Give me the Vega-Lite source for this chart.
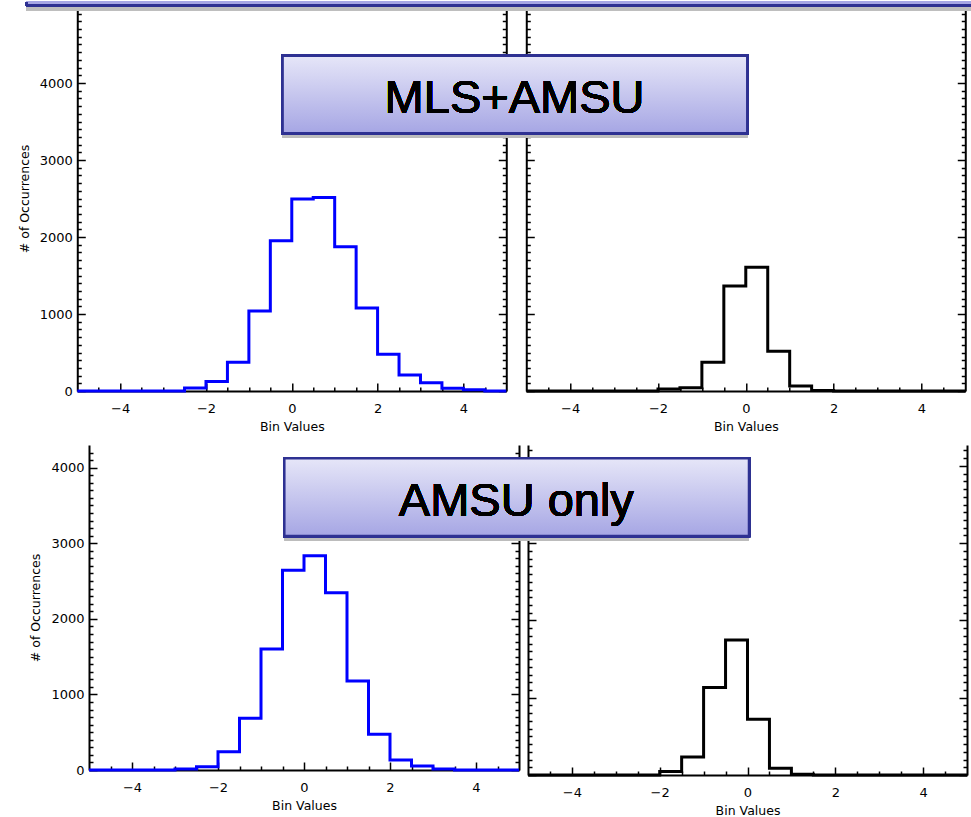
{
  "$schema": "https://vega.github.io/schema/vega-lite/v6.json",
  "padding": {"left": 18, "top": 0, "right": 0, "bottom": 0},
  "datasets": {
    "hist": [
      {"panel": "mls_amsu_blue", "edge": -5, "count": 0},
      {"panel": "mls_amsu_blue", "edge": -4.5, "count": 0},
      {"panel": "mls_amsu_blue", "edge": -4, "count": 0},
      {"panel": "mls_amsu_blue", "edge": -3.5, "count": 0},
      {"panel": "mls_amsu_blue", "edge": -3, "count": 0},
      {"panel": "mls_amsu_blue", "edge": -2.5, "count": 40},
      {"panel": "mls_amsu_blue", "edge": -2, "count": 125},
      {"panel": "mls_amsu_blue", "edge": -1.5, "count": 373},
      {"panel": "mls_amsu_blue", "edge": -1, "count": 1040},
      {"panel": "mls_amsu_blue", "edge": -0.5, "count": 1950},
      {"panel": "mls_amsu_blue", "edge": 0, "count": 2493},
      {"panel": "mls_amsu_blue", "edge": 0.5, "count": 2514},
      {"panel": "mls_amsu_blue", "edge": 1, "count": 1873},
      {"panel": "mls_amsu_blue", "edge": 1.5, "count": 1079},
      {"panel": "mls_amsu_blue", "edge": 2, "count": 477},
      {"panel": "mls_amsu_blue", "edge": 2.5, "count": 208},
      {"panel": "mls_amsu_blue", "edge": 3, "count": 108},
      {"panel": "mls_amsu_blue", "edge": 3.5, "count": 35},
      {"panel": "mls_amsu_blue", "edge": 4, "count": 17},
      {"panel": "mls_amsu_blue", "edge": 4.5, "count": 0},
      {"panel": "mls_amsu_blue", "edge": 5, "count": 0},
      {"panel": "mls_amsu_black", "edge": -5, "count": 0},
      {"panel": "mls_amsu_black", "edge": -4.5, "count": 0},
      {"panel": "mls_amsu_black", "edge": -4, "count": 0},
      {"panel": "mls_amsu_black", "edge": -3.5, "count": 0},
      {"panel": "mls_amsu_black", "edge": -3, "count": 0},
      {"panel": "mls_amsu_black", "edge": -2.5, "count": 0},
      {"panel": "mls_amsu_black", "edge": -2, "count": 26},
      {"panel": "mls_amsu_black", "edge": -1.5, "count": 43},
      {"panel": "mls_amsu_black", "edge": -1, "count": 373},
      {"panel": "mls_amsu_black", "edge": -0.5, "count": 1364},
      {"panel": "mls_amsu_black", "edge": 0, "count": 1607},
      {"panel": "mls_amsu_black", "edge": 0.5, "count": 516},
      {"panel": "mls_amsu_black", "edge": 1, "count": 65},
      {"panel": "mls_amsu_black", "edge": 1.5, "count": 5},
      {"panel": "mls_amsu_black", "edge": 2, "count": 0},
      {"panel": "mls_amsu_black", "edge": 2.5, "count": 0},
      {"panel": "mls_amsu_black", "edge": 3, "count": 0},
      {"panel": "mls_amsu_black", "edge": 3.5, "count": 0},
      {"panel": "mls_amsu_black", "edge": 4, "count": 0},
      {"panel": "mls_amsu_black", "edge": 4.5, "count": 0},
      {"panel": "mls_amsu_black", "edge": 5, "count": 0},
      {"panel": "amsu_blue", "edge": -5, "count": 0},
      {"panel": "amsu_blue", "edge": -4.5, "count": 0},
      {"panel": "amsu_blue", "edge": -4, "count": 0},
      {"panel": "amsu_blue", "edge": -3.5, "count": 0},
      {"panel": "amsu_blue", "edge": -3, "count": 13},
      {"panel": "amsu_blue", "edge": -2.5, "count": 44},
      {"panel": "amsu_blue", "edge": -2, "count": 243},
      {"panel": "amsu_blue", "edge": -1.5, "count": 684},
      {"panel": "amsu_blue", "edge": -1, "count": 1601},
      {"panel": "amsu_blue", "edge": -0.5, "count": 2642},
      {"panel": "amsu_blue", "edge": 0, "count": 2836},
      {"panel": "amsu_blue", "edge": 0.5, "count": 2346},
      {"panel": "amsu_blue", "edge": 1, "count": 1178},
      {"panel": "amsu_blue", "edge": 1.5, "count": 472},
      {"panel": "amsu_blue", "edge": 2, "count": 132},
      {"panel": "amsu_blue", "edge": 2.5, "count": 53},
      {"panel": "amsu_blue", "edge": 3, "count": 13},
      {"panel": "amsu_blue", "edge": 3.5, "count": 0},
      {"panel": "amsu_blue", "edge": 4, "count": 0},
      {"panel": "amsu_blue", "edge": 4.5, "count": 0},
      {"panel": "amsu_blue", "edge": 5, "count": 0},
      {"panel": "amsu_black", "edge": -5, "count": 0},
      {"panel": "amsu_black", "edge": -4.5, "count": 0},
      {"panel": "amsu_black", "edge": -4, "count": 0},
      {"panel": "amsu_black", "edge": -3.5, "count": 0},
      {"panel": "amsu_black", "edge": -3, "count": 0},
      {"panel": "amsu_black", "edge": -2.5, "count": 0},
      {"panel": "amsu_black", "edge": -2, "count": 44},
      {"panel": "amsu_black", "edge": -1.5, "count": 233},
      {"panel": "amsu_black", "edge": -1, "count": 1131},
      {"panel": "amsu_black", "edge": -0.5, "count": 1747},
      {"panel": "amsu_black", "edge": 0, "count": 721},
      {"panel": "amsu_black", "edge": 0.5, "count": 87},
      {"panel": "amsu_black", "edge": 1, "count": 9},
      {"panel": "amsu_black", "edge": 1.5, "count": 0},
      {"panel": "amsu_black", "edge": 2, "count": 0},
      {"panel": "amsu_black", "edge": 2.5, "count": 0},
      {"panel": "amsu_black", "edge": 3, "count": 0},
      {"panel": "amsu_black", "edge": 3.5, "count": 0},
      {"panel": "amsu_black", "edge": 4, "count": 0},
      {"panel": "amsu_black", "edge": 4.5, "count": 0},
      {"panel": "amsu_black", "edge": 5, "count": 0}
    ]
  },
  "vconcat": [
    {
      "hconcat": [
        {
          "width": 429, "height": 385,
          "data": {"name": "hist"},
          "transform": [{"filter": "datum.panel === 'mls_amsu_blue'"}],
          "layer": [
            {
              "mark": {"type": "line", "interpolate": "step-after", "color": "#0000ff", "strokeWidth": 3},
              "encoding": {
                "x": {"field": "edge", "type": "quantitative", "scale": {"domain": [-5, 5], "nice": false, "zero": false},
                  "axis": {"orient": "bottom", "values": [-4.5,-4,-3.5,-3,-2.5,-2,-1.5,-1,-0.5,0,0.5,1,1.5,2,2.5,3,3.5,4,4.5],
                    "tickSize": {"condition": {"test": "datum.value % 2 === 0", "value": -8}, "value": -4},
                    "labelExpr": "datum.value % 2 === 0 ? datum.label : ''", "labelPadding": 19, "title": "Bin Values", "titlePadding": 1}},
                "y": {"field": "count", "type": "quantitative", "scale": {"domain": [0, 5000], "nice": false},
                  "axis": {"orient": "left", "values": [0,100,200,300,400,500,600,700,800,900,1000,1100,1200,1300,1400,1500,1600,1700,1800,1900,2000,2100,2200,2300,2400,2500,2600,2700,2800,2900,3000,3100,3200,3300,3400,3500,3600,3700,3800,3900,4000,4100,4200,4300,4400,4500,4600,4700,4800,4900],
                    "tickSize": {"condition": {"test": "datum.value % 1000 === 0", "value": -8}, "value": -4},
                    "labelExpr": "datum.value % 1000 === 0 ? datum.label : ''", "labelPadding": 13, "title": "# of Occurrences", "titlePadding": 8}}
              }
            },
            {
              "mark": {"type": "line", "interpolate": "step-after", "color": "#0000ff", "strokeWidth": 3, "opacity": 0},
              "encoding": {
                "x": {"field": "edge", "type": "quantitative", "scale": {"domain": [-5, 5], "nice": false, "zero": false}, "axis": null},
                "y": {"field": "count", "type": "quantitative", "scale": {"domain": [0, 5000], "nice": false},
                  "axis": {"orient": "right", "values": [0,100,200,300,400,500,600,700,800,900,1000,1100,1200,1300,1400,1500,1600,1700,1800,1900,2000,2100,2200,2300,2400,2500,2600,2700,2800,2900,3000,3100,3200,3300,3400,3500,3600,3700,3800,3900,4000,4100,4200,4300,4400,4500,4600,4700,4800,4900],
                    "tickSize": {"condition": {"test": "datum.value % 1000 === 0", "value": -8}, "value": -4},
                    "labels": false, "title": null}}
              }
            }
          ],
          "resolve": {"axis": {"x": "independent", "y": "independent"}}
        },
        {
          "width": 439, "height": 385,
          "data": {"name": "hist"},
          "transform": [{"filter": "datum.panel === 'mls_amsu_black'"}],
          "layer": [
            {
              "mark": {"type": "line", "interpolate": "step-after", "color": "#000000", "strokeWidth": 3},
              "encoding": {
                "x": {"field": "edge", "type": "quantitative", "scale": {"domain": [-5, 5], "nice": false, "zero": false},
                  "axis": {"orient": "bottom", "values": [-4.5,-4,-3.5,-3,-2.5,-2,-1.5,-1,-0.5,0,0.5,1,1.5,2,2.5,3,3.5,4,4.5],
                    "tickSize": {"condition": {"test": "datum.value % 2 === 0", "value": -8}, "value": -4},
                    "labelExpr": "datum.value % 2 === 0 ? datum.label : ''", "labelPadding": 19, "title": "Bin Values", "titlePadding": 1}},
                "y": {"field": "count", "type": "quantitative", "scale": {"domain": [0, 5000], "nice": false},
                  "axis": {"orient": "left", "values": [0,100,200,300,400,500,600,700,800,900,1000,1100,1200,1300,1400,1500,1600,1700,1800,1900,2000,2100,2200,2300,2400,2500,2600,2700,2800,2900,3000,3100,3200,3300,3400,3500,3600,3700,3800,3900,4000,4100,4200,4300,4400,4500,4600,4700,4800,4900],
                    "tickSize": {"condition": {"test": "datum.value % 1000 === 0", "value": -8}, "value": -4},
                    "labels": false, "title": null}}
              }
            },
            {
              "mark": {"type": "line", "interpolate": "step-after", "color": "#000000", "strokeWidth": 3, "opacity": 0},
              "encoding": {
                "x": {"field": "edge", "type": "quantitative", "scale": {"domain": [-5, 5], "nice": false, "zero": false}, "axis": null},
                "y": {"field": "count", "type": "quantitative", "scale": {"domain": [0, 5000], "nice": false},
                  "axis": {"orient": "right", "values": [0,100,200,300,400,500,600,700,800,900,1000,1100,1200,1300,1400,1500,1600,1700,1800,1900,2000,2100,2200,2300,2400,2500,2600,2700,2800,2900,3000,3100,3200,3300,3400,3500,3600,3700,3800,3900,4000,4100,4200,4300,4400,4500,4600,4700,4800,4900],
                    "tickSize": {"condition": {"test": "datum.value % 1000 === 0", "value": -8}, "value": -4},
                    "labels": false, "title": null}}
              }
            },
            {
              "mark": {"type": "rect", "fill": "#bdbdbd"},
              "encoding": {
                "x": {"datum": -16.39, "type": "quantitative", "axis": null},
                "x2": {"datum": 5.42},
                "y": {"datum": 4942, "type": "quantitative", "axis": null},
                "y2": {"datum": 4990}
              }
            },
            {
              "mark": {"type": "rect", "fill": "#a6a6e4"},
              "encoding": {
                "x": {"datum": -16.39, "type": "quantitative", "axis": null},
                "x2": {"datum": 5.42},
                "y": {"datum": 5006, "type": "quantitative", "axis": null},
                "y2": {"datum": 5065}
              }
            },
            {
              "mark": {"type": "rule", "stroke": "#2e3192", "strokeWidth": 2},
              "encoding": {
                "x": {"datum": -16.39, "type": "quantitative", "axis": null},
                "x2": {"datum": 5.42},
                "y": {"datum": 5006, "type": "quantitative", "axis": null}
              }
            },
            {
              "mark": {"type": "rule", "stroke": "#2e3192", "strokeWidth": 2},
              "encoding": {
                "x": {"datum": -16.39, "type": "quantitative", "axis": null},
                "y": {"datum": 5006, "type": "quantitative", "axis": null},
                "y2": {"datum": 5052}
              }
            },
            {
              "mark": {"type": "rect", "fill": "#bdbdbd"},
              "encoding": {
                "x": {"datum": -10.551, "type": "quantitative", "axis": null},
                "x2": {"datum": 0.034},
                "y": {"datum": 3290, "type": "quantitative", "axis": null},
                "y2": {"datum": 3334}
              }
            },
            {
              "mark": {"type": "rect", "stroke": "#2e3192", "strokeWidth": 2.5,
                "fill": {"gradient": "linear", "x1": 0, "y1": 0, "x2": 0, "y2": 1, "stops": [{"offset": 0, "color": "#e6e6f8"}, {"offset": 1, "color": "#a6a6e4"}]}},
              "encoding": {
                "x": {"datum": -10.551, "type": "quantitative", "axis": null},
                "x2": {"datum": 0.034},
                "y": {"datum": 3347, "type": "quantitative", "axis": null},
                "y2": {"datum": 4354}
              }
            },
            {
              "mark": {"type": "text", "text": "MLS+AMSU", "font": "Liberation Sans", "fontSize": 47, "color": "#000000", "align": "center", "baseline": "alphabetic"},
              "encoding": {
                "x": {"datum": -5.267, "type": "quantitative", "axis": null},
                "y": {"datum": 3606, "type": "quantitative", "axis": null}
              }
            }
          ],
          "resolve": {"axis": {"x": "independent", "y": "independent"}}
        }
      ],
      "spacing": 20,
      "bounds": "flush"
    },
    {
      "hconcat": [
        {
          "width": 430, "height": 325,
          "data": {"name": "hist"},
          "transform": [{"filter": "datum.panel === 'amsu_blue'"}],
          "layer": [
            {
              "mark": {"type": "line", "interpolate": "step-after", "color": "#0000ff", "strokeWidth": 3},
              "encoding": {
                "x": {"field": "edge", "type": "quantitative", "scale": {"domain": [-5, 5], "nice": false, "zero": false},
                  "axis": {"orient": "bottom", "values": [-4.5,-4,-3.5,-3,-2.5,-2,-1.5,-1,-0.5,0,0.5,1,1.5,2,2.5,3,3.5,4,4.5],
                    "tickSize": {"condition": {"test": "datum.value % 2 === 0", "value": -8}, "value": -4},
                    "labelExpr": "datum.value % 2 === 0 ? datum.label : ''", "labelPadding": 19, "title": "Bin Values", "titlePadding": 1}},
                "y": {"field": "count", "type": "quantitative", "scale": {"domain": [0, 4300], "nice": false},
                  "axis": {"orient": "left", "values": [0,100,200,300,400,500,600,700,800,900,1000,1100,1200,1300,1400,1500,1600,1700,1800,1900,2000,2100,2200,2300,2400,2500,2600,2700,2800,2900,3000,3100,3200,3300,3400,3500,3600,3700,3800,3900,4000,4100,4200],
                    "tickSize": {"condition": {"test": "datum.value % 1000 === 0", "value": -8}, "value": -4},
                    "labelExpr": "datum.value % 1000 === 0 ? datum.label : ''", "labelPadding": 13, "title": "# of Occurrences", "titlePadding": 8}}
              }
            },
            {
              "mark": {"type": "line", "interpolate": "step-after", "color": "#0000ff", "strokeWidth": 3, "opacity": 0},
              "encoding": {
                "x": {"field": "edge", "type": "quantitative", "scale": {"domain": [-5, 5], "nice": false, "zero": false}, "axis": null},
                "y": {"field": "count", "type": "quantitative", "scale": {"domain": [0, 4300], "nice": false},
                  "axis": {"orient": "right", "values": [0,100,200,300,400,500,600,700,800,900,1000,1100,1200,1300,1400,1500,1600,1700,1800,1900,2000,2100,2200,2300,2400,2500,2600,2700,2800,2900,3000,3100,3200,3300,3400,3500,3600,3700,3800,3900,4000,4100,4200],
                    "tickSize": {"condition": {"test": "datum.value % 1000 === 0", "value": -8}, "value": -4},
                    "labels": false, "title": null}}
              }
            }
          ],
          "resolve": {"axis": {"x": "independent", "y": "independent"}}
        },
        {
          "width": 439, "height": 330,
          "data": {"name": "hist"},
          "transform": [{"filter": "datum.panel === 'amsu_black'"}],
          "layer": [
            {
              "mark": {"type": "line", "interpolate": "step-after", "color": "#000000", "strokeWidth": 3},
              "encoding": {
                "x": {"field": "edge", "type": "quantitative", "scale": {"domain": [-5, 5], "nice": false, "zero": false},
                  "axis": {"orient": "bottom", "values": [-4.5,-4,-3.5,-3,-2.5,-2,-1.5,-1,-0.5,0,0.5,1,1.5,2,2.5,3,3.5,4,4.5],
                    "tickSize": {"condition": {"test": "datum.value % 2 === 0", "value": -8}, "value": -4},
                    "labelExpr": "datum.value % 2 === 0 ? datum.label : ''", "labelPadding": 19, "title": "Bin Values", "titlePadding": 1}},
                "y": {"field": "count", "type": "quantitative", "scale": {"domain": [0, 4270], "nice": false},
                  "axis": {"orient": "left", "values": [0,100,200,300,400,500,600,700,800,900,1000,1100,1200,1300,1400,1500,1600,1700,1800,1900,2000,2100,2200,2300,2400,2500,2600,2700,2800,2900,3000,3100,3200,3300,3400,3500,3600,3700,3800,3900,4000,4100,4200],
                    "tickSize": {"condition": {"test": "datum.value % 1000 === 0", "value": -8}, "value": -4},
                    "labels": false, "title": null}}
              }
            },
            {
              "mark": {"type": "line", "interpolate": "step-after", "color": "#000000", "strokeWidth": 3, "opacity": 0},
              "encoding": {
                "x": {"field": "edge", "type": "quantitative", "scale": {"domain": [-5, 5], "nice": false, "zero": false}, "axis": null},
                "y": {"field": "count", "type": "quantitative", "scale": {"domain": [0, 4270], "nice": false},
                  "axis": {"orient": "right", "values": [0,100,200,300,400,500,600,700,800,900,1000,1100,1200,1300,1400,1500,1600,1700,1800,1900,2000,2100,2200,2300,2400,2500,2600,2700,2800,2900,3000,3100,3200,3300,3400,3500,3600,3700,3800,3900,4000,4100,4200],
                    "tickSize": {"condition": {"test": "datum.value % 1000 === 0", "value": -8}, "value": -4},
                    "labels": false, "title": null}}
              }
            },
            {
              "mark": {"type": "rect", "fill": "#bdbdbd"},
              "encoding": {
                "x": {"datum": -10.551, "type": "quantitative", "axis": null},
                "x2": {"datum": 0.034},
                "y": {"datum": 3037, "type": "quantitative", "axis": null},
                "y2": {"datum": 3080}
              }
            },
            {
              "mark": {"type": "rect", "stroke": "#2e3192", "strokeWidth": 2.5,
                "fill": {"gradient": "linear", "x1": 0, "y1": 0, "x2": 0, "y2": 1, "stops": [{"offset": 0, "color": "#e6e6f8"}, {"offset": 1, "color": "#a6a6e4"}]}},
              "encoding": {
                "x": {"datum": -10.551, "type": "quantitative", "axis": null},
                "x2": {"datum": 0.034},
                "y": {"datum": 3093, "type": "quantitative", "axis": null},
                "y2": {"datum": 4098}
              }
            },
            {
              "mark": {"type": "text", "text": "AMSU only", "font": "Liberation Sans", "fontSize": 47, "color": "#000000", "align": "center", "baseline": "alphabetic"},
              "encoding": {
                "x": {"datum": -5.266, "type": "quantitative", "axis": null},
                "y": {"datum": 3351, "type": "quantitative", "axis": null}
              }
            }
          ],
          "resolve": {"axis": {"x": "independent", "y": "independent"}}
        }
      ],
      "spacing": 9,
      "bounds": "flush"
    }
  ],
  "spacing": 12,
  "center": true,
  "config": {
    "view": {"stroke": null},
    "axis": {
      "domainColor": "#000000", "domainWidth": 2, "tickColor": "#000000", "tickWidth": 1.5,
      "labelFont": "DejaVu Sans", "labelFontSize": 13, "labelColor": "#000000",
      "titleFont": "DejaVu Sans", "titleFontSize": 12.5, "titleFontWeight": "normal", "titleColor": "#000000",
      "grid": false, "labelOverlap": false, "labelFlush": false, "format": "d"
    }
  }
}
